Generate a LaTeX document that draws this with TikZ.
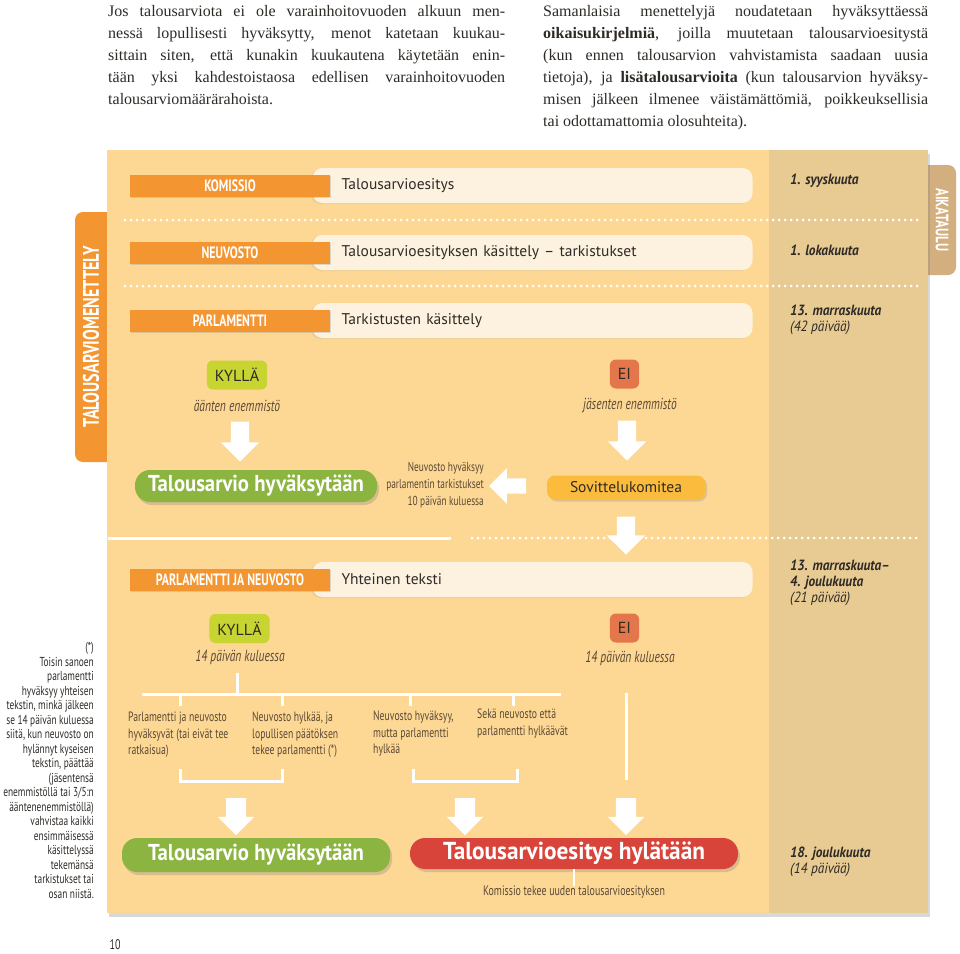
\documentclass[tikz,border=0pt]{standalone}
\usepackage{fontspec}
\setmainfont{PT Sans}
\newfontfamily\serif{Liberation Serif}
\newfontfamily\cond[FakeStretch=0.72]{PT Sans}
\newfontfamily\semi[FakeStretch=0.9]{PT Sans}
\newfontfamily\wide[FakeStretch=0.95]{PT Sans}
\newfontfamily\datef[FakeStretch=0.9]{PT Sans}
\usetikzlibrary{positioning}
\usetikzlibrary{calc}
\usetikzlibrary{shadows,shapes.arrows}
\definecolor{panelbg}{HTML}{FDD894}
\definecolor{columnbg}{HTML}{E8CA93}
\definecolor{barorange}{HTML}{F39530}
\definecolor{creambg}{HTML}{FDF2DF}
\definecolor{tabtan}{HTML}{D3AE7E}
\definecolor{yesgreen}{HTML}{C8D431}
\definecolor{noorange}{HTML}{E4764B}
\definecolor{okgreen}{HTML}{8BB540}
\definecolor{failred}{HTML}{D8443A}
\definecolor{sovyellow}{HTML}{FBBC3E}
\definecolor{textdark}{HTML}{2E2A26}
\definecolor{labeltext}{HTML}{5A4836}
\tikzstyle{actor}=[fill=barorange,minimum width=200pt,minimum height=22pt,inner sep=0pt,text=white,font=\cond\bfseries\fontsize{16.5}{16.5}\selectfont,drop shadow={opacity=0.25,shadow xshift=1pt,shadow yshift=-1.5pt}]
\tikzstyle{stage}=[fill=creambg,rounded corners=10pt,minimum height=35pt,text width=382pt,inner xsep=29pt,inner ysep=0pt,align=left,text=textdark,font=\fontsize{15.5}{16}\selectfont,drop shadow={opacity=0.12,shadow xshift=-2pt,shadow yshift=-1pt}]
\tikzstyle{datebox}=[anchor=north west,inner sep=0pt,align=left,text=textdark,font=\datef\fontsize{14.8}{16}\selectfont]
\tikzstyle{vote}=[rounded corners=6pt,minimum height=29pt,inner xsep=8pt,inner ysep=0pt,text=textdark,font=\fontsize{16}{16}\selectfont]
\tikzstyle{rule}=[inner sep=0pt,text=labeltext,font=\cond\itshape\fontsize{16}{16}\selectfont]
\tikzstyle{small}=[inner sep=0pt,align=left,text=labeltext,font=\cond\fontsize{13.5}{16.5}\selectfont]
\tikzstyle{result}=[rounded corners=15pt,minimum height=32pt,inner sep=0pt,text=white,font=\semi\bfseries\fontsize{23}{23}\selectfont,drop shadow={opacity=0.3,shadow xshift=2pt,shadow yshift=-3pt}]
\tikzstyle{downarrow}=[single arrow,shape border rotate=270,fill=white,inner sep=9pt,single arrow head extend=10pt,minimum height=38pt]
\tikzstyle{tree} = [draw=white,line width=3pt]
\tikzstyle{dotline} = [draw=white,line width=3pt,line cap=round,dash pattern=on 0pt off 6pt]

\begin{document}
\begin{tikzpicture}[x=1pt,y=-1pt]
\useasboundingbox (0,0) rectangle (960,953);

% top paragraphs
\node[anchor=north west,inner sep=0pt,text width=397pt,align=justify,text=textdark,font=\serif\fontsize{16}{22}\selectfont] (introA) at (108,5)
  {Jos talousarviota ei ole varainhoitovuoden alkuun men-\linebreak nessä lopullisesti hyväksytty, menot katetaan kuukau-\linebreak sittain siten, että kunakin kuukautena käytetään enin-\linebreak tään yksi kahdestoistaosa edellisen varainhoitovuoden\linebreak talousarviomäärärahoista.};
\node[anchor=north west,inner sep=0pt,text width=385pt,align=justify,text=textdark,font=\serif\fontsize{16}{22}\selectfont] (introB) at (543,5)
  {Samanlaisia menettelyjä noudatetaan hyväksyttäessä\linebreak \textbf{oikaisukirjelmiä}, joilla muutetaan talousarvioesitystä\linebreak (kun ennen talousarvion vahvistamista saadaan uusia\linebreak tietoja), ja \textbf{lisätalousarvioita} (kun talousarvion hyväksy-\linebreak misen jälkeen ilmenee väistämättömiä, poikkeuksellisia\linebreak tai odottamattomia olosuhteita).};

% tabs and panel
\fill[barorange,rounded corners=8pt] (75,212) rectangle (115,462);
\fill[tabtan,rounded corners=8pt] (915,165) rectangle (956,275);
\fill[panelbg,drop shadow={opacity=0.3,shadow xshift=2pt,shadow yshift=-4pt}] (107,150) rectangle (928,913);
\fill[columnbg] (769,150) rectangle (928,913);
\node[rotate=90,text=white,font=\cond\bfseries\fontsize{22.5}{22.5}\selectfont] (menettely) at (91,337) {TALOUSARVIOMENETTELY};
\node[rotate=-90,text=white,font=\cond\bfseries\fontsize{18}{18}\selectfont] (aikataulu) at (942,220) {AIKATAULU};

% rows
\foreach \y/\who/\what/\name in {185.5/KOMISSIO/Talousarvioesitys/kom, 252.5/NEUVOSTO/Talousarvioesityksen käsittely – tarkistukset/neu, 320.5/PARLAMENTTI/Tarkistusten käsittely/par, 579.5/PARLAMENTTI JA NEUVOSTO/Yhteinen teksti/yht}
{
  \node[stage] (\name-stage) at (532.5,\y) {\what};
  \node[actor] (\name) at (230,\y) {\who};
}
\draw[dotline] (125,220) -- (920,220);
\draw[dotline] (125,286) -- (920,286);

% dates
\node[datebox] (d1) at (790,174) {\textbf{\textit{1. syyskuuta}}};
\node[datebox] (d2) at (790,245) {\textbf{\textit{1. lokakuuta}}};
\node[datebox] (d3) at (790,305) {\textbf{\textit{13. marraskuuta}}\\\textit{(42 päivää)}};
\node[datebox] (d4) at (790,560) {\textbf{\textit{13. marraskuuta–}}\\\textbf{\textit{4. joulukuuta}}\\\textit{(21 päivää)}};
\node[datebox] (d5) at (790,847) {\textbf{\textit{18. joulukuuta}}\\\textit{(14 päivää)}};

% upper decision
\node[vote,fill=yesgreen] (kylla1) at (237,375) {KYLLÄ};
\node[vote,fill=noorange] (ei1) at (624.5,374) {EI};
\node[rule] (enem1) at (237,406) {äänten enemmistö};
\node[rule] (enem2) at (630,405) {jäsenten enemmistö};
\node[downarrow,minimum height=40pt] (ar1) at (240,437) {};
\node[downarrow,minimum height=40pt] (ar2) at (627,436) {};
\node[result,fill=okgreen,minimum width=242pt] (ok1) at (256,486) {Talousarvio hyväksytään};
\node[small,anchor=east,align=right,font=\cond\fontsize{13}{17}\selectfont] (neuv) at (484,485) {Neuvosto hyväksyy\\parlamentin tarkistukset\\10 päivän kuluessa};
\node[single arrow,shape border rotate=180,fill=white,inner sep=7.5pt,single arrow head extend=10pt,minimum height=37pt] (arl) at (511.5,486) {};
\node[rounded corners=8pt,fill=sovyellow,minimum width=158pt,minimum height=24pt,inner sep=0pt,text=textdark,font=\fontsize{15.5}{16}\selectfont,drop shadow={opacity=0.25,shadow xshift=2pt,shadow yshift=-2pt}] (sov) at (626,487.5) {Sovittelukomitea};

% separator
\draw[tree] (108,538) -- (451,538);
\draw[dotline] (472,538) -- (920,538);
\node[downarrow,minimum height=38pt] (ar3) at (626,531) {};

% lower decision
\node[vote,fill=yesgreen] (kylla2) at (239.5,628.5) {KYLLÄ};
\node[vote,fill=noorange] (ei2) at (624.5,628) {EI};
\node[rule] (kulu1) at (240,657) {14 päivän kuluessa};
\node[rule] (kulu2) at (630,658) {14 päivän kuluessa};

\coordinate (top) at (237,673);
\coordinate (left) at (142,694);
\coordinate (right) at (561,694);
\draw[tree] (top) -- (top |- left);
\draw[tree] (left) -- (right);
\foreach \x in {180,282,410,513}
  \draw[tree] (\x,694) -- (\x,706);

\node[small,anchor=north west] (c1) at (128,712) {Parlamentti ja neuvosto\\hyväksyvät (tai eivät tee\\ratkaisua)};
\node[small,anchor=north west] (c2) at (252,712) {Neuvosto hylkää, ja\\lopullisen päätöksen\\tekee parlamentti (*)};
\node[small,anchor=north west] (c3) at (373,711) {Neuvosto hyväksyy,\\mutta parlamentti\\hylkää};
\node[small,anchor=north west] (c4) at (477,709) {Sekä neuvosto että\\parlamentti hylkäävät};

\draw[tree] (180,769) -- (180,781) -- (282,781) -- (282,769);
\draw[tree] (413,769) -- (413,781) -- (517,781) -- (517,769);
\coordinate (eitop) at (626,693);
\coordinate (eibot) at (626,780);
\draw[tree] (eitop) -- (eibot);

\foreach \x/\name in {236/ar4, 465/ar5, 626/ar6}
  \node[downarrow,inner sep=10pt,single arrow head extend=8pt,minimum height=37pt] (\name) at (\x,811.5) {};

\node[result,fill=okgreen,minimum width=268pt,minimum height=34pt] (ok2) at (256,855) {Talousarvio hyväksytään};
\node[result,fill=failred,minimum width=328pt,minimum height=31pt,font=\wide\bfseries\fontsize{24.5}{24.5}\selectfont] (fail) at (574,853.5) {Talousarvioesitys hylätään};
\node[small,anchor=north,font=\cond\fontsize{13.8}{13.8}\selectfont] (uusi) at (574,886) {Komissio tekee uuden talousarvioesityksen};
\draw[tree,line width=2.5pt] (fail.south) -- (uusi.north);

% footnote
\node[small,anchor=north east,align=right,text=textdark,font=\cond\fontsize{13}{14.5}\selectfont] (note) at (94,642)
  {(*)\\Toisin sanoen\\parlamentti\\hyväksyy yhteisen\\tekstin, minkä jälkeen\\se 14 päivän kuluessa\\siitä, kun neuvosto on\\hylännyt kyseisen\\tekstin, päättää\\(jäsentensä\\enemmistöllä tai 3/5:n\\ääntenenemmistöllä)\\vahvistaa kaikki\\ensimmäisessä\\käsittelyssä\\tekemänsä\\tarkistukset tai\\osan niistä.};

\node[inner sep=0pt,text=textdark,font=\cond\fontsize{14}{14}\selectfont] (page) at (115,945) {10};
\end{tikzpicture}
\end{document}
